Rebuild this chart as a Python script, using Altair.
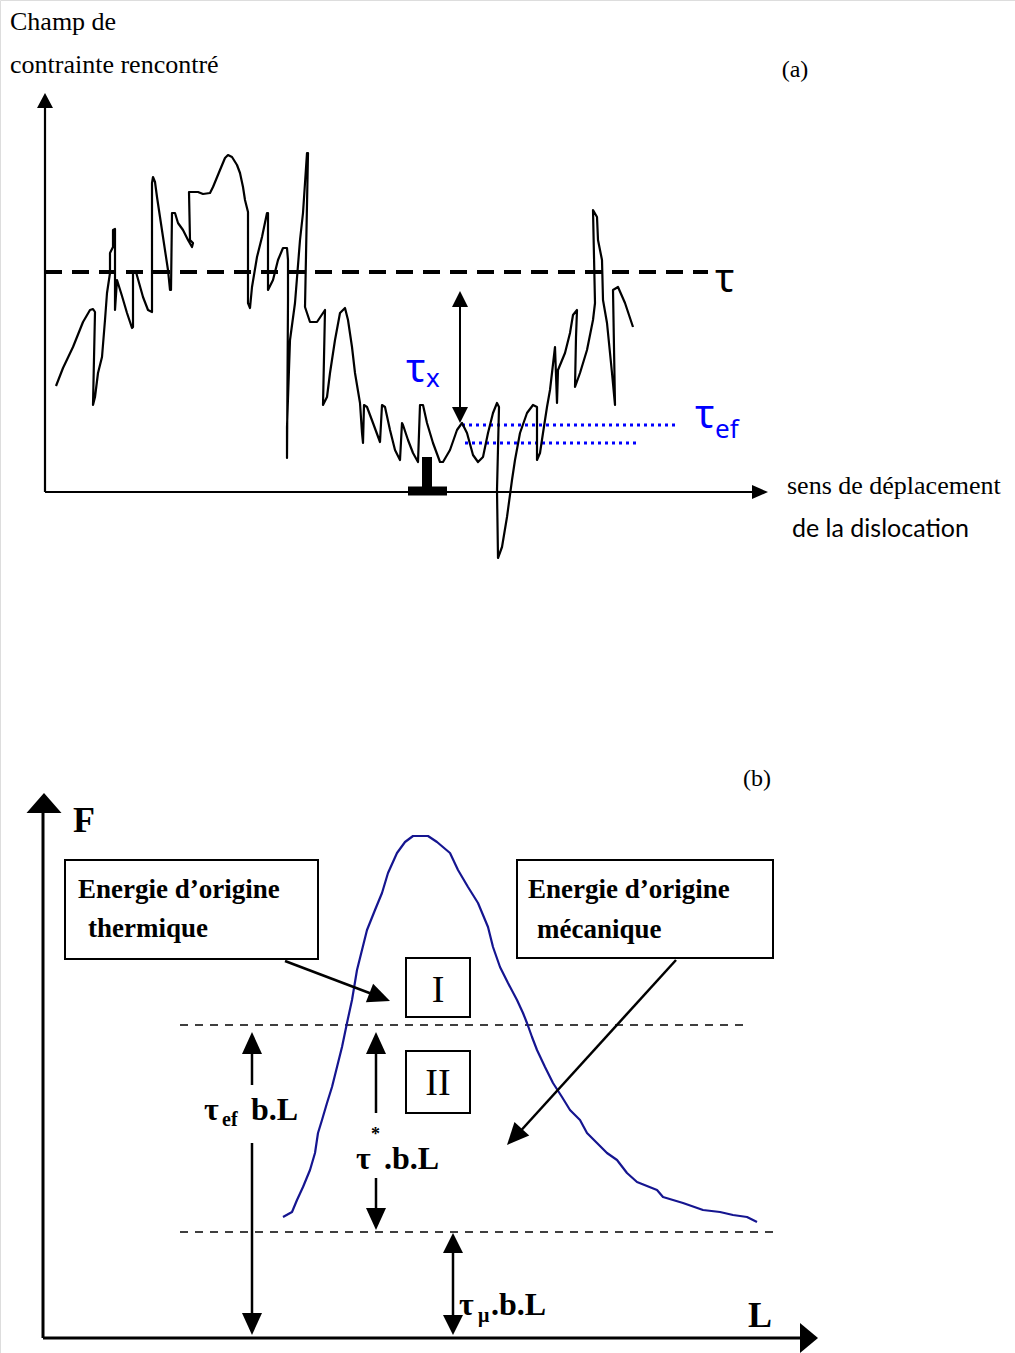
import math
import altair as alt
import pandas as pd

W, H = 1015, 1353

# ---------------------------------------------------------------------------
# (a) stress field met by the dislocation along its glide path
field_x = [56, 63, 73, 83, 90, 93, 95, 93, 95, 98, 102, 105, 107, 110, 110, 113, 113, 115,
           115, 117, 122, 127, 130, 132, 133, 133, 136, 143, 148, 152, 152, 153, 155, 157,
           160, 163, 168, 170, 171, 172, 175, 178, 183, 188, 192, 193, 190, 189, 198, 203,
           210, 213, 220, 225, 228, 232, 237, 240, 243, 245, 248, 248, 250, 252, 257, 262,
           267, 268, 268, 273, 278, 283, 287, 288, 288, 287, 287, 290, 295, 300, 303, 305,
           307, 308, 305, 310, 317, 325, 323, 327, 330, 335, 340, 345, 348, 352, 355, 360,
           362, 363, 364, 367, 373, 380, 382, 385, 390, 395, 400, 402, 403, 408, 413, 418,
           420, 423, 427, 433, 440, 443, 450, 457, 462, 467, 473, 478, 483, 488, 493, 497,
           499, 497, 498, 502, 507, 512, 515, 520, 527, 533, 537, 537, 540, 543, 547, 550,
           555, 557, 558, 565, 570, 573, 577, 576, 575, 580, 587, 593, 595, 593, 597, 598,
           602, 603, 607, 612, 615, 613, 618, 625, 633]
field_y = [386, 368, 347, 322, 310, 309, 312, 405, 397, 373, 357, 320, 293, 273, 253, 247, 230, 229,
           310, 280, 296, 313, 322, 328, 327, 273, 272, 297, 310, 312, 183, 177, 182, 197,
           217, 237, 270, 290, 290, 213, 213, 223, 230, 240, 247, 243, 240, 192, 192, 194,
           193, 187, 170, 158, 155, 157, 165, 173, 187, 200, 212, 303, 308, 287, 257, 237,
           213, 213, 290, 280, 260, 248, 248, 260, 300, 458, 427, 340, 303, 240, 213, 183,
           153, 153, 307, 322, 322, 310, 405, 397, 373, 340, 313, 308, 320, 347, 373, 403,
           433, 443, 405, 407, 423, 442, 405, 407, 430, 450, 460, 423, 425, 440, 453, 462,
           405, 405, 423, 443, 462, 462, 450, 430, 423, 433, 455, 462, 457, 433, 413, 403,
           407, 490, 558, 547, 517, 480, 460, 433, 413, 405, 407, 460, 453, 433, 407, 390,
           347, 403, 370, 353, 333, 315, 310, 337, 387, 373, 350, 320, 303, 210, 217, 240,
           260, 300, 323, 373, 405, 290, 287, 303, 327]

# (b) free energy of the obstacle as a function of the swept length L
profile_x = [283, 292, 297, 303, 310, 315, 318, 322, 327, 332, 337, 342, 347, 352, 357, 362,
             367, 375, 382, 388, 397, 405, 413, 428, 437, 450, 458, 468, 478, 488, 493, 500,
             508, 517, 523, 527, 532, 537, 545, 553, 562, 570, 580, 587, 597, 607, 617, 627,
             637, 657, 663, 683, 703, 720, 733, 747, 757]
profile_y = [1217, 1212, 1200, 1187, 1170, 1153, 1133, 1120, 1103, 1087, 1067, 1047, 1023, 1000,
             970, 950, 930, 910, 893, 873, 853, 842, 836, 836, 842, 853, 870, 887, 903, 927,
             947, 967, 983, 1000, 1013, 1023, 1037, 1050, 1067, 1083, 1097, 1110, 1120, 1133,
             1143, 1153, 1160, 1173, 1182, 1190, 1197, 1203, 1210, 1212, 1215, 1217, 1222]

# straight segments: (x, y, x2, y2, stroke width, colour)
solid_segments = [
    (45, 492, 45, 100, 2.2, "black"),      # (a) vertical axis
    (45, 492, 760, 492, 2.2, "black"),     # (a) horizontal axis
    (460, 296, 460, 418, 2.0, "black"),    # tau_x span
    (427, 457, 427, 488, 10, "black"),     # dislocation symbol, stem
    (408, 491, 447, 491, 9, "black"),      # dislocation symbol, base
    (43, 1338, 43, 806, 3.0, "black"),     # (b) vertical axis
    (43, 1338, 806, 1338, 3.2, "black"),   # (b) horizontal axis
    (285, 961, 380, 997, 2.5, "black"),    # pointer from "thermique"
    (676, 960, 516, 1136, 2.5, "black"),   # pointer from "mecanique"
    (376, 1113, 376, 1045, 2.5, "black"),  # tau* up
    (376, 1178, 376, 1218, 2.5, "black"),  # tau* down
    (252, 1085, 252, 1045, 2.5, "black"),  # tau_ef up
    (252, 1143, 252, 1322, 2.5, "black"),  # tau_ef down
    (453, 1245, 453, 1322, 2.5, "black"),  # tau_mu
]
tau_line = [(45, 272, 708, 272)]
dotted_lines = [(462, 425, 676, 425), (465, 443, 638, 443)]
level_lines = [(180, 1025, 750, 1025), (180, 1232, 780, 1232)]

# arrow heads: tip x, tip y, direction dx, dy, head width, head length
heads = [
    (45, 93, 0, -1, 16, 15),
    (768, 492, 1, 0, 14, 16),
    (460, 291, 0, -1, 16, 16),
    (460, 423, 0, 1, 16, 16),
    (44, 793, 0, -1, 35, 20),
    (818, 1338, 1, 0, 30, 18),
    (390, 1001, 105, 41, 20, 22),
    (507, 1145, -169, 185, 20, 22),
    (376, 1032, 0, -1, 20, 22),
    (376, 1230, 0, 1, 20, 22),
    (252, 1032, 0, -1, 20, 22),
    (252, 1335, 0, 1, 20, 22),
    (453, 1233, 0, -1, 20, 20),
    (453, 1335, 0, 1, 20, 20),
]

# framed boxes: x, y, x2, y2
boxes = [(65, 860, 318, 959), (517, 860, 773, 958), (406, 958, 470, 1017), (406, 1051, 470, 1113)]

SERIF = "Liberation Serif"
SANS = "Noto Sans"
BLUE = "#0000ff"

# text groups: (font, size, weight, colour, align, [(x, baseline, text), ...])
texts = [
    (SERIF, 26, "normal", "black", "left",
     [(10, 30, "Champ de"), (10, 73, "contrainte rencontré"), (787, 494, "sens de déplacement")]),
    (SERIF, 24, "normal", "black", "center", [(795, 77, "(a)"), (757, 786, "(b)")]),
    ("Lato", 25, "normal", "black", "left", [(792, 537, "de la dislocation")]),
    (SANS, 40, "normal", "black", "left", [(715, 292, "τ")]),
    (SANS, 40, "normal", BLUE, "left", [(406, 382, "τ"), (695, 428, "τ")]),
    (SANS, 26, "normal", BLUE, "left", [(426, 387, "x"), (715, 438, "ef")]),
    (SERIF, 27, "bold", "black", "left",
     [(78, 898, "Energie d’origine"), (88, 937, "thermique"),
      (528, 898, "Energie d’origine"), (537, 938, "mécanique")]),
    (SERIF, 38, "normal", "black", "center", [(438, 1002, "I"), (438, 1095, "II")]),
    (SERIF, 32, "bold", "black", "left",
     [(204, 1120, "τ"), (251, 1120, "b.L"), (356, 1169, "τ"), (384, 1169, ".b.L"),
      (459, 1315, "τ"), (491, 1315, ".b.L")]),
    (SERIF, 20, "bold", "black", "left", [(222, 1126, "ef"), (478, 1322, "μ")]),
    (SERIF, 18, "bold", "black", "left", [(371, 1140, "*")]),
    (SERIF, 36, "bold", "black", "left", [(73, 832, "F"), (748, 1327, "L")]),
]

X = alt.Scale(domain=[0, W], nice=False, zero=False)
Y = alt.Scale(domain=[0, H], nice=False, zero=False, reverse=True)


def curve(xs, ys, color, width):
    df = pd.DataFrame({"x": xs, "y": ys, "i": range(len(xs))})
    return alt.Chart(df).mark_line(color=color, strokeWidth=width, strokeJoin="round").encode(
        x=alt.X("x:Q", scale=X, axis=None),
        y=alt.Y("y:Q", scale=Y, axis=None),
        order=alt.Order("i:Q"),
    )


def rules(rows, color="black", width=2.0, dash=None, cap="butt"):
    df = pd.DataFrame(rows, columns=["x", "y", "x2", "y2"])
    kw = dict(color=color, strokeWidth=width, strokeCap=cap)
    if dash:
        kw["strokeDash"] = dash
    return alt.Chart(df).mark_rule(**kw).encode(
        x=alt.X("x:Q", scale=X, axis=None), y=alt.Y("y:Q", scale=Y, axis=None),
        x2="x2:Q", y2="y2:Q",
    )


def seg_layer(rows):
    df = pd.DataFrame(rows, columns=["x", "y", "x2", "y2", "w", "c"])
    return alt.Chart(df).mark_rule(strokeCap="butt").encode(
        x=alt.X("x:Q", scale=X, axis=None), y=alt.Y("y:Q", scale=Y, axis=None),
        x2="x2:Q", y2="y2:Q",
        strokeWidth=alt.StrokeWidth("w:Q", scale=None),
        color=alt.Color("c:N", scale=None),
    )


def head_layers(rows):
    out = []
    for (x, y, dx, dy, w, ln) in rows:
        ang = math.degrees(math.atan2(dx, -dy)) % 360
        path = f"M0,0L{w / 2:.1f},{ln}L{-w / 2:.1f},{ln}Z"
        df = pd.DataFrame({"x": [x], "y": [y], "a": [ang]})
        out.append(
            alt.Chart(df).mark_point(shape=path, size=4, filled=True, color="black", opacity=1,
                                     strokeWidth=0).encode(
                x=alt.X("x:Q", scale=X, axis=None), y=alt.Y("y:Q", scale=Y, axis=None),
                angle=alt.Angle("a:Q", scale=None),
            )
        )
    return out


def box_layer(rows):
    df = pd.DataFrame(rows, columns=["x", "y", "x2", "y2"])
    return alt.Chart(df).mark_rect(fill="white", stroke="black", strokeWidth=2).encode(
        x=alt.X("x:Q", scale=X, axis=None), y=alt.Y("y:Q", scale=Y, axis=None),
        x2="x2:Q", y2="y2:Q",
    )


def text_layer(font, size, weight, color, align, rows):
    df = pd.DataFrame(rows, columns=["x", "y", "t"])
    return alt.Chart(df).mark_text(font=font, fontSize=size, fontWeight=weight, color=color,
                                   align=align, baseline="alphabetic").encode(
        x=alt.X("x:Q", scale=X, axis=None), y=alt.Y("y:Q", scale=Y, axis=None),
        text="t:N",
    )


layers = [
    rules(tau_line, width=4, dash=[17, 10]),
    rules(dotted_lines, color=BLUE, width=3, dash=[3, 4]),
    rules(level_lines, width=1.6, dash=[8, 7]),
    curve(field_x, field_y, "black", 2.2),
    curve(profile_x, profile_y, "#151590", 2.2),
    seg_layer(solid_segments),
    box_layer(boxes),
]
layers += head_layers(heads)
layers += [text_layer(*t) for t in texts]

chart = alt.layer(*layers).properties(
    width=W, height=H, padding=0,
    autosize=alt.AutoSizeParams(type="none"),
).configure_view(stroke=None).configure(background="white")

chart.save("out.html", embed_options={"renderer": "svg", "actions": False})
